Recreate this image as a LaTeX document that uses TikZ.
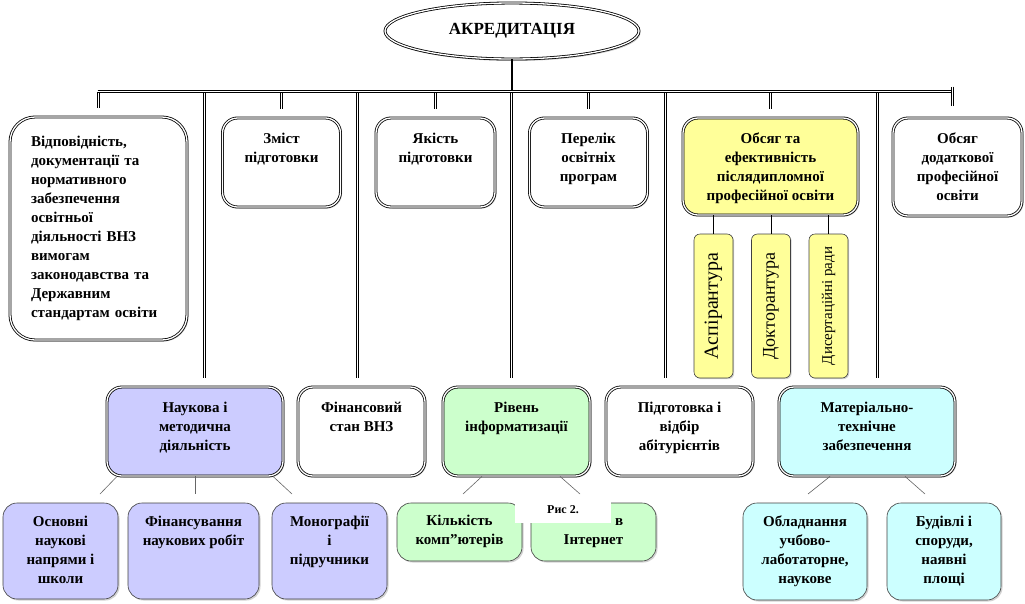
\documentclass[tikz,border=0pt]{standalone}
\usepackage{fontspec}
\setmainfont{Liberation Serif}
\usepackage{graphicx}
\usetikzlibrary{shapes.geometric}
\usetikzlibrary{shadows}

\definecolor{lavender}{HTML}{CCCCFF}
\definecolor{mint}{HTML}{CCFFCC}
\definecolor{aqua}{HTML}{CCFFFF}
\definecolor{lemon}{HTML}{FFFF99}

% text pinned to the top of a box: [top gap], height, width, lines
\newcommand{\boxtext}[4][12]{\parbox[c][#2pt][t]{#3pt}{\centering\vspace*{#1pt}\strut #4}}

\begin{document}
\begin{tikzpicture}[
    x=1pt, y=-1pt,
    every node/.style={font=\bfseries\fontsize{15}{19}\selectfont},
    main/.style={rectangle, draw, double, double distance=1.3pt, line width=0.8pt,
        rounded corners=15pt, inner sep=0pt, fill=white,
        drop shadow={shadow xshift=1.5pt, shadow yshift=-1.5pt, fill=black!40}},
    sub/.style={rectangle, draw=black!75, line width=0.6pt, rounded corners=14pt,
        inner sep=0pt, drop shadow={shadow xshift=1.5pt, shadow yshift=-1.5pt, fill=black!35}},
    vert/.style={rectangle, draw=black!75, line width=0.6pt, rounded corners=6pt,
        fill=lemon, minimum width=39pt, minimum height=144pt, inner sep=0pt,
        font=\fontsize{#1}{#1}\selectfont,
        drop shadow={shadow xshift=1.2pt, shadow yshift=-1.2pt, fill=black!35}},
    link/.style={draw, double, double distance=1.3pt, line width=0.9pt},
    twig/.style={draw=black!60, line width=0.6pt}
]
\useasboundingbox (0,0) rectangle (1025,603);

% Nodes
\node[ellipse, draw, double, double distance=1.3pt, line width=0.8pt, fill=white,
    minimum width=254pt, minimum height=56pt,
    drop shadow={shadow xshift=1.5pt, shadow yshift=-2pt, fill=black!40},
    font=\bfseries\fontsize{17}{20}\selectfont] (akred) at (512,31) {АКРЕДИТАЦІЯ};

\node[main, minimum width=177pt, minimum height=223pt, rounded corners=25pt,
    text width=135pt, align=left] (vidp) at (98.5,228.5)
    {Відповідність,\\документації та\\нормативного\\забезпечення\\освітньої\\діяльності ВНЗ\\вимогам\\законодавства та\\Державним\\стандартам освіти};
\node[main, minimum width=118pt] (zmist) at (281.5,162.5) {\boxtext{89}{110}{Зміст\\підготовки}};
\node[main, minimum width=119pt] (yakist) at (435.5,162.5) {\boxtext{89}{110}{Якість\\підготовки}};
\node[main, minimum width=118pt] (perelik) at (588.5,162.5) {\boxtext{89}{110}{Перелік\\освітніх\\програм}};
\node[main, fill=lemon, minimum width=175pt] (obsyag) at (770.5,166.5)
    {\boxtext{97}{165}{Обсяг та\\ефективність\\післядипломної\\професійної освіти}};
\node[main, minimum width=129pt] (dodat) at (957.5,167) {\boxtext{98}{120}{Обсяг\\додаткової\\професійної\\освіти}};

\node[vert=20] (asp) at (713.5,306) {\rotatebox{90}{Аспірантура}};
\node[vert=18] (dokt) at (771,306) {\rotatebox{90}{Докторантура}};
\node[vert=15] (dysert) at (828.5,306) {\rotatebox{90}{Дисертаційні ради}};

\node[main, fill=lavender, minimum width=176pt] (naukova) at (195,431.5) {\boxtext{89}{165}{Наукова і\\методична\\діяльність}};
\node[main, minimum width=127pt] (finstan) at (361.5,431.5) {\boxtext{89}{120}{Фінансовий\\стан ВНЗ}};
\node[main, fill=mint, minimum width=147pt] (riven) at (516.5,431.5) {\boxtext{89}{140}{Рівень\\інформатизації}};
\node[main, minimum width=147pt] (pidgot) at (679.5,431.5) {\boxtext{89}{140}{Підготовка і\\відбір\\абітурієнтів}};
\node[main, fill=aqua, minimum width=176pt] (mater) at (867,431.5) {\boxtext{89}{165}{Матеріально-\\технічне\\забезпечення}};

\node[sub, fill=lavender, minimum width=115pt] (osnovni) at (60.5,551) {\boxtext[10]{96}{110}{Основні\\наукові\\напрями і\\школи}};
\node[sub, fill=lavender, minimum width=131pt] (finrob) at (193.5,551) {\boxtext[10]{96}{125}{Фінансування\\наукових робіт}};
\node[sub, fill=lavender, minimum width=115pt] (monogr) at (329.5,551) {\boxtext[10]{96}{110}{Монографії\\і\\підручники}};
\node[sub, fill=mint, minimum width=125pt] (kompy) at (459.5,532) {\boxtext[9]{58}{120}{Кількість\\комп"ютерів}};
\node[sub, fill=mint, minimum width=125pt] (dostup) at (593.5,532) {\boxtext[9]{58}{120}{\phantom{Доступ} в\\Інтернет}};
\node[sub, fill=aqua, minimum width=124pt] (obladn) at (805,551.5) {\boxtext[10]{97}{118}{Обладнання\\учбово-\\лаботаторне,\\наукове}};
\node[sub, fill=aqua, minimum width=114pt] (budivli) at (944,551.5) {\boxtext[10]{97}{108}{Будівлі і\\споруди,\\наявні\\площі}};

% Edges
\coordinate (busL) at (97.5,91.5);
\coordinate (busR) at (952.5,91.5);
\coordinate (tickR) at (952.5,106);
\coordinate (vN) at (204.5,378);
\coordinate (vF) at (357.5,378);
\coordinate (vR) at (511.5,378);
\coordinate (vP) at (665.5,378);
\coordinate (vM) at (877.5,378);

\draw[line width=1.3pt] (akred.south) -- (akred.south |- busL);
\foreach \n in {vidp, zmist, yakist, perelik, obsyag}
    \draw[link] (\n.north |- busL) -- ([yshift=9pt]\n.north);
\foreach \c in {vN, vF, vR, vP, vM}
    \draw[link] (\c |- busL) -- (\c);
\draw[link] (busL) -- (busR);
\draw[link] ([yshift=5pt]busR) -- (tickR);

\foreach \s in {asp, dokt, dysert}
    \draw[line width=0.6pt] (obsyag.south -| \s) -- (\s);

\coordinate (t1) at (100,494);
\coordinate (t2) at (195,494);
\coordinate (t3) at (292,494);
\coordinate (t4) at (463,494);
\coordinate (t5) at (580,494);
\coordinate (t6) at (808,494);
\coordinate (t7) at (925,494);
\draw[twig] ([xshift=-78pt]naukova.south) -- (t1);
\draw[twig] (naukova.south) -- (t2);
\draw[twig] ([xshift=78pt]naukova.south) -- (t3);
\draw[twig] ([xshift=-34.5pt]riven.south) -- (t4);
\draw[twig] ([xshift=43.5pt]riven.south) -- (t5);
\draw[twig] ([xshift=-37pt]mater.south) -- (t6);
\draw[twig] ([xshift=38pt]mater.south) -- (t7);

% caption patch
\node[fill=white, minimum width=96pt, minimum height=21pt, inner sep=0pt, text depth=6pt,
    font=\bfseries\fontsize{12}{14}\selectfont] (ris) at (563,512.5) {Рис 2.};

\end{tikzpicture}
\end{document}
